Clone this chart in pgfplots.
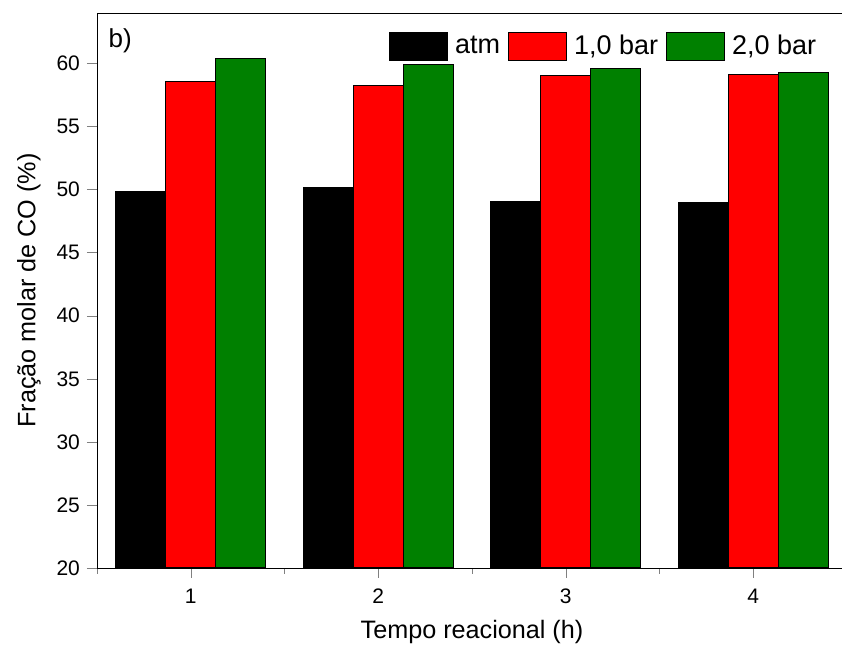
\documentclass[border=0pt]{standalone}
\usepackage{fontspec}
\setmainfont{Liberation Sans}
\usepackage{pgfplots}
\pgfplotsset{compat=1.18}

\definecolor{barred}{RGB}{255,0,0}
\definecolor{bargreen}{RGB}{0,128,0}

\begin{document}
\begin{tikzpicture}
\begin{axis}[
    scale only axis,
    width=375pt, height=277.5pt,
    xmin=0.5, xmax=4.5,
    ymin=20, ymax=64,
    tick pos=left,
    tick align=outside,
    major tick length=5pt,
    minor tick length=3pt,
    xtick={1,2,3,4},
    minor xtick={0.5,1.5,2.5,3.5},
    ytick={20,25,...,60},
    tick label style={font=\fontsize{10.5}{12}\selectfont},
    /pgf/number format/assume math mode=true,
    xticklabel style={yshift=-2pt},
    xlabel={Tempo reacional (h)},
    ylabel={Fração molar de CO (\%)},
    label style={font=\fontsize{12.6}{14}\selectfont},
    xlabel style={at={(axis description cs:0.5,-0.1153)}, anchor=center},
    ylabel style={at={(axis description cs:-0.0907,0.5)}, anchor=center},
    ybar, bar width=0.267,
    every axis plot/.append style={draw=black, line width=0.5pt},
    legend columns=3,
    legend style={draw=none, fill=none, at={(0.381,0.975)}, anchor=north west,
        font=\fontsize{13.5}{15}\selectfont,
        /tikz/every odd column/.append style={column sep=1.5pt},
        /tikz/every even column/.append style={column sep=2pt}},
    legend image code/.code={\draw[#1] (0pt,-6.8pt) rectangle (29pt,6.8pt);},
]
\addplot[fill=black, bar shift=-0.267] coordinates {(1,49.85) (2,50.2) (3,49.05) (4,48.95)};
\addplot[fill=barred, bar shift=0] coordinates {(1,58.6) (2,58.25) (3,59.05) (4,59.1)};
\addplot[fill=bargreen, bar shift=0.267] coordinates {(1,60.4) (2,59.9) (3,59.6) (4,59.3)};
\legend{atm, {1,0 bar}, {2,0 bar}}
\node[anchor=north west, font=\fontsize{13}{15}\selectfont] at (rel axis cs:0.006,0.985) {b)};
\end{axis}
\pgfresetboundingbox
\path[use as bounding box] ([xshift=-48.5pt, yshift=-41pt]current axis.south west)
    rectangle ([xshift=-2.5pt, yshift=6.5pt]current axis.north east);
\end{tikzpicture}
\end{document}
